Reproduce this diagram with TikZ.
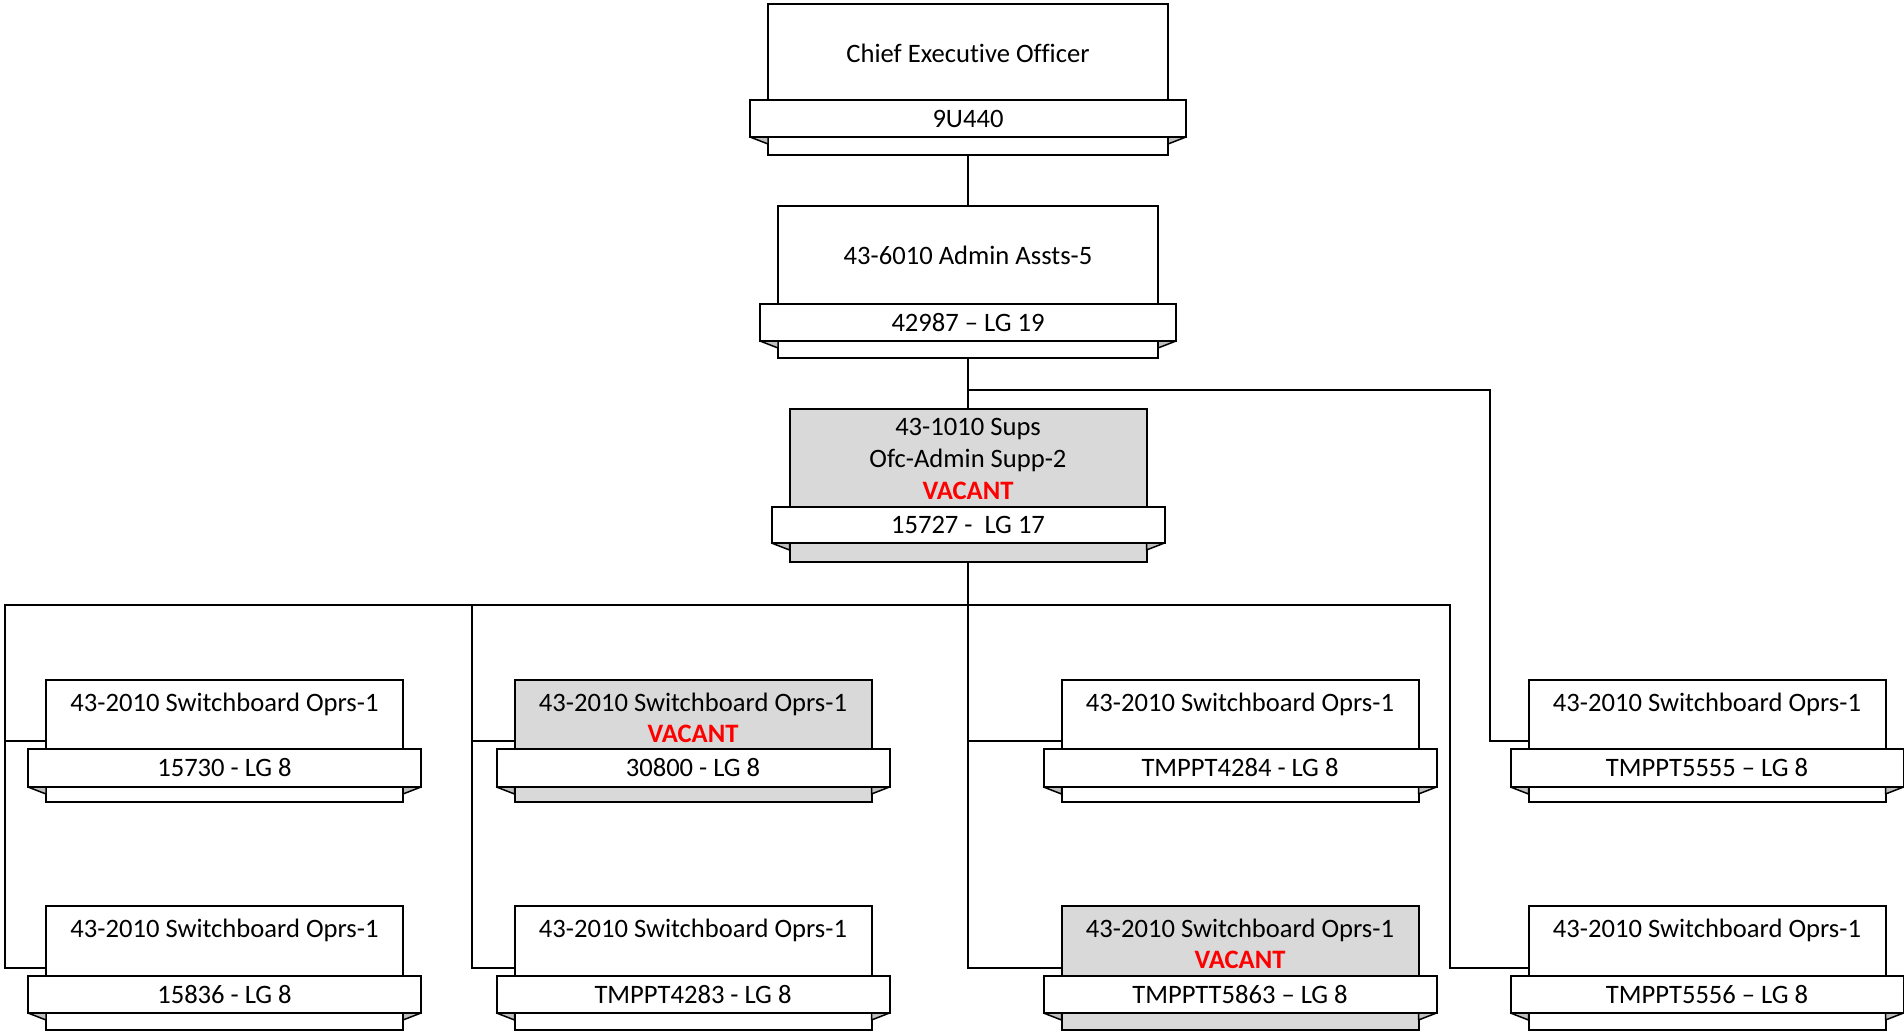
\documentclass[tikz,border=0pt]{standalone}
\usepackage{fontspec}
\setmainfont{Carlito}[Ligatures=NoCommon]
\usetikzlibrary{calc}
\definecolor{vacfill}{HTML}{D9D9D9}
\definecolor{foldfill}{HTML}{BFBFBF}
\definecolor{vacred}{HTML}{FF0000}
% #1 name, #2 cx, #3 top, #4 banner top, #5 banner bottom, #6 bottom, #7 half width, #8 fill, #9 banner text
\newcommand\orgcard[9]{%
  \node[cardbody, fill=#8, minimum width={2*#7}, minimum height={#6-#3}] (#1) at (#2,{(#3+#6)/2}) {};
  \node[bannerbox, minimum width={2*(#7+18)}, minimum height={#5-#4}] (#1-b) at (#2,{(#4+#5)/2}) {#9};
  \filldraw[foldtri] (#1-b.south west) -- (#1-b.south west -| #1.west) -- ++(0,7) -- cycle;
  \filldraw[foldtri] (#1-b.south east) -- (#1-b.south east -| #1.east) -- ++(0,7) -- cycle;
}
\begin{document}
\begin{tikzpicture}[x=1pt,y=-1pt,
  cardbody/.style={draw, line width=2pt, rectangle, inner sep=0pt, outer sep=0pt},
  bannerbox/.style={draw, fill=white, line width=2pt, rectangle, inner sep=0pt, outer sep=0pt,
    font=\fontsize{26.6}{32}\selectfont, text height=17pt, text depth=0pt},
  foldtri/.style={fill=foldfill, draw, line width=1.5pt, line join=round},
  txt/.style={inner sep=0pt, outer sep=0pt, font=\fontsize{26.6}{32}\selectfont, text height=17pt, text depth=0pt},
  vac/.style={txt, font=\fontsize{26.6}{32}\selectfont\bfseries, text=vacred},
  conn/.style={line width=2.5pt}]
\useasboundingbox (0,0) rectangle (1904,1033);

% top cards
\orgcard{ceo}{968}{4}{100}{137}{155}{200}{white}{9U440}
\node[txt] (ceo-t) at (968,54) {Chief Executive Officer};

\orgcard{adm}{968}{206}{304}{341}{358}{190}{white}{42987 – LG 19}
\node[txt] (adm-t) at (968,256) {43-6010 Admin Assts-5};

\orgcard{sup}{968}{409}{507}{543}{562}{178.5}{vacfill}{15727 -\ \ LG 17}
\node[txt] (sup-t1) at (968,427) {43-1010 Sups};
\node[txt] (sup-t2) at (968,458.5) {Ofc-Admin Supp-2};
\node[vac] (sup-v) at (968,490.5) {VACANT};

% row 1
\orgcard{c1r1}{224.5}{680}{749}{787}{802}{178.5}{white}{15730 - LG 8}
\node[txt] (c1r1-t) at (224.5,702.5) {43-2010 Switchboard Oprs-1};
\orgcard{c2r1}{693}{680}{749}{787}{802}{178.5}{vacfill}{30800 - LG 8}
\node[txt] (c2r1-t) at (693,702.5) {43-2010 Switchboard Oprs-1};
\node[vac] (c2r1-v) at (693,734) {VACANT};
\orgcard{c3r1}{1240}{680}{749}{787}{802}{178.5}{white}{TMPPT4284 - LG 8}
\node[txt] (c3r1-t) at (1240,702.5) {43-2010 Switchboard Oprs-1};
\orgcard{c4r1}{1707}{680}{749}{787}{802}{178.5}{white}{TMPPT5555 – LG 8}
\node[txt] (c4r1-t) at (1707,702.5) {43-2010 Switchboard Oprs-1};

% row 2
\orgcard{c1r2}{224.5}{906}{976}{1013}{1030}{178.5}{white}{15836 - LG 8}
\node[txt] (c1r2-t) at (224.5,928.5) {43-2010 Switchboard Oprs-1};
\orgcard{c2r2}{693}{906}{976}{1013}{1030}{178.5}{white}{TMPPT4283 - LG 8}
\node[txt] (c2r2-t) at (693,928.5) {43-2010 Switchboard Oprs-1};
\orgcard{c3r2}{1240}{906}{976}{1013}{1030}{178.5}{vacfill}{TMPPTT5863 – LG 8}
\node[txt] (c3r2-t) at (1240,928.5) {43-2010 Switchboard Oprs-1};
\node[vac] (c3r2-v) at (1240,960) {VACANT};
\orgcard{c4r2}{1707}{906}{976}{1013}{1030}{178.5}{white}{TMPPT5556 – LG 8}
\node[txt] (c4r2-t) at (1707,928.5) {43-2010 Switchboard Oprs-1};

% connectors
\coordinate (j1) at (968,390);
\coordinate (rcol) at (1490,390);
\coordinate (b1) at (5,605);
\coordinate (b2) at (472,605);
\coordinate (b3) at (968,605);
\coordinate (b4) at (1450,605);

\draw[conn] (ceo.south) -- (adm.north);
\draw[conn] (adm.south) -- (sup.north);
\draw[conn] (j1) -- (rcol) |- (c4r1.west);
\draw[conn] (sup.south) -- (b3);
\draw[conn] (c4r2.west) -| (b4) -- (b1) |- (c1r2.west);
\draw[conn] (b1 |- c1r1.west) -- (c1r1.west);
\draw[conn] (b2) |- (c2r2.west);
\draw[conn] (b2 |- c2r1.west) -- (c2r1.west);
\draw[conn] (b3) |- (c3r2.west);
\draw[conn] (b3 |- c3r1.west) -- (c3r1.west);
\end{tikzpicture}
\end{document}
